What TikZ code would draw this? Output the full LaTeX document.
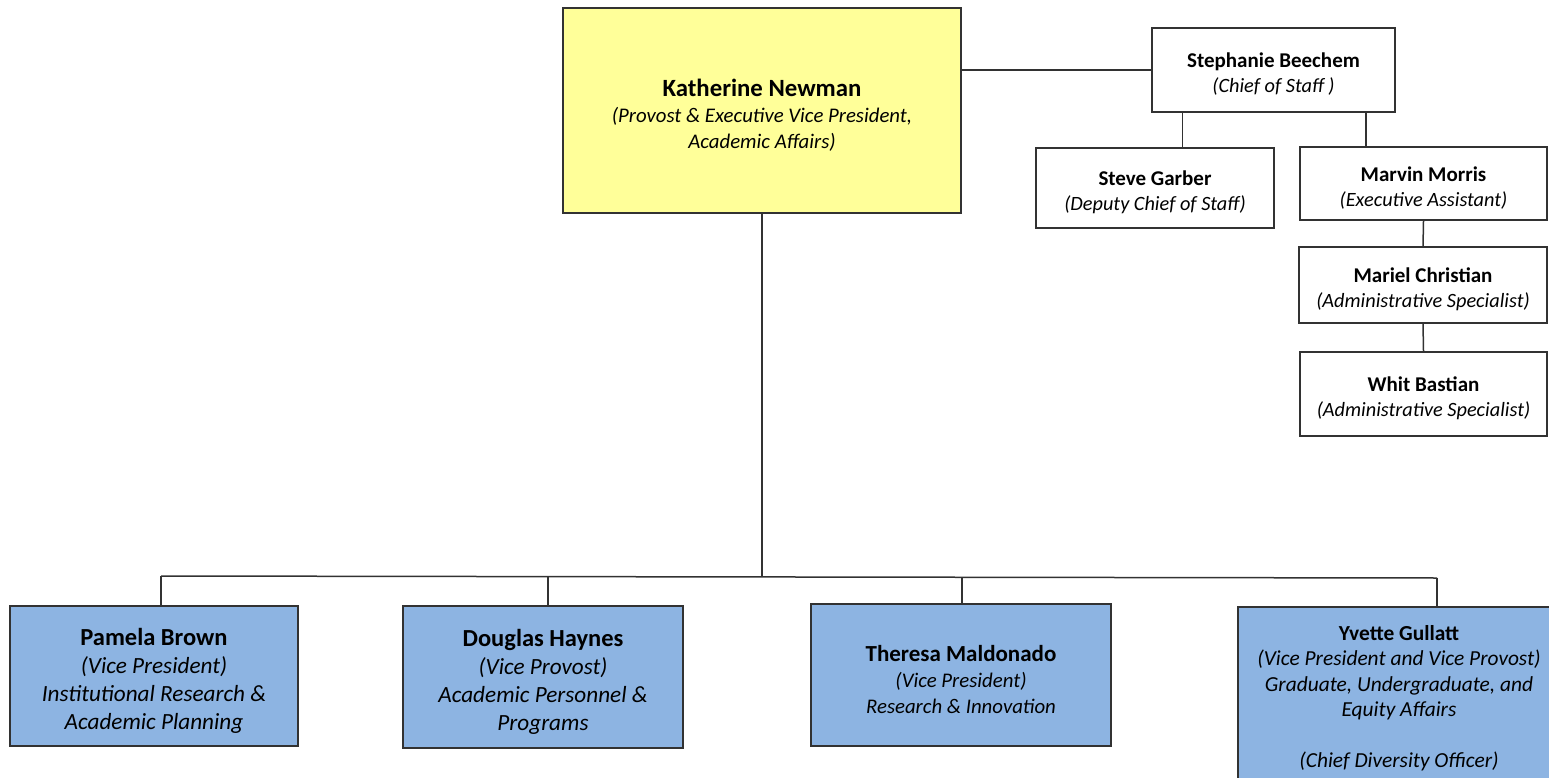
\documentclass[tikz,border=0pt]{standalone}
\usepackage{fontspec}
\setmainfont{Carlito}
\definecolor{provostyellow}{RGB}{255,255,153}
\definecolor{vpblue}{RGB}{141,180,226}
\definecolor{edgegray}{RGB}{50,50,50}
\newcommand{\headstrut}{\rule{0pt}{1.1em}}
\begin{document}
\begin{tikzpicture}[x=1pt, y=-1pt,
    orgbox/.style={draw=edgegray, line width=1.5pt, align=center, inner sep=2pt},
    provost/.style={orgbox, fill=provostyellow, font=\fontsize{20.8}{26}\selectfont},
    staffbox/.style={orgbox, fill=white, font=\fontsize{20.3}{25}\selectfont},
    vpbox/.style={orgbox, fill=vpblue, font=\fontsize{23.2}{27.7}\selectfont},
    link/.style={draw=edgegray, line width=1.5pt}]
    \clip (0,0) rectangle (1549,778);
    \useasboundingbox (0,0) rectangle (1549,778);

    % top of the chart
    \node[provost, minimum width=398, minimum height=205] (newman) at (762,110.5)
        {{\fontsize{24.8}{26}\selectfont\bfseries\headstrut Katherine Newman}\\
         \itshape (Provost \& Executive Vice President,\\
         \itshape Academic Affairs)};

    \node[staffbox, minimum width=243, minimum height=84] (beechem) at (1273.5,70)
        {\fontsize{21}{25}\selectfont\bfseries\headstrut Stephanie Beechem\\ \itshape (Chief of Staff )};
    \node[staffbox, minimum width=238, minimum height=80] (garber) at (1155,188)
        {\fontsize{21}{25}\selectfont\bfseries\headstrut Steve Garber\\ \itshape (Deputy Chief of Staff)};
    \node[staffbox, minimum width=247, minimum height=73] (morris) at (1423.5,183.5)
        {\fontsize{21}{25}\selectfont\bfseries\headstrut Marvin Morris\\ \itshape (Executive Assistant)};
    \node[staffbox, minimum width=248, minimum height=76] (christian) at (1423,285)
        {\fontsize{21}{25}\selectfont\bfseries\headstrut Mariel Christian\\ \itshape (Administrative Specialist)};
    \node[staffbox, minimum width=247, minimum height=84] (bastian) at (1423.5,394)
        {\fontsize{21}{25}\selectfont\bfseries\headstrut Whit Bastian\\ \itshape (Administrative Specialist)};

    \draw[link] (beechem.west) -- (beechem.west -| newman.east);
    \coordinate (stubG) at ([xshift=31]beechem.south west);
    \coordinate (stubM) at ([xshift=-30]beechem.south east);
    \draw[link] (stubG) -- (stubG |- garber.north);
    \draw[link] (stubM) -- (stubM |- morris.north);
    \draw[link] (morris.south) -- (christian.north);
    \draw[link] (christian.south) -- (bastian.north);

    % vice presidents
    \node[vpbox, minimum width=288, minimum height=140] (brown) at (154,676)
        {{\fontsize{24.5}{27.7}\selectfont\bfseries\headstrut Pamela Brown}\\ \itshape (Vice President)\\
         \itshape Institutional Research \&\\ \itshape Academic Planning};
    \node[vpbox, minimum width=280, minimum height=142] (haynes) at (543,677)
        {{\fontsize{24.5}{27.7}\selectfont\bfseries\headstrut Douglas Haynes}\\ \itshape (Vice Provost)\\
         \itshape Academic Personnel \&\\ \itshape Programs};
    \node[vpbox, minimum width=300, minimum height=142,
          font=\fontsize{20.8}{26}\selectfont] (maldonado) at (961,675)
        {{\fontsize{23}{26}\selectfont\bfseries\headstrut Theresa Maldonado}\\ \itshape (Vice President)\\
         \itshape Research \& Innovation};
    \node[vpbox, minimum width=322, minimum height=193,
          font=\fontsize{21.4}{25.5}\selectfont] (gullatt) at (1399,703.5)
        {\bfseries Yvette Gullatt\\ \itshape (Vice President and Vice Provost)\\
         \itshape Graduate, Undergraduate, and\\ \itshape Equity Affairs\\[25.5pt]
         \itshape (Chief Diversity Officer)\\[-11pt]\mbox{}};

    \coordinate (busL) at (161,576);
    \coordinate (busR) at (1437,578);
    \draw[link] (newman.south) -- (newman.south |- busL);
    \draw[link] (busL) -- (busR);
    \coordinate (dropB) at (161,576);
    \coordinate (dropH) at (548,577);
    \coordinate (dropM) at (962,577);
    \coordinate (dropG) at (1437,578);
    \draw[link] (dropB) -- (dropB |- brown.north);
    \draw[link] (dropH) -- (dropH |- haynes.north);
    \draw[link] (dropM) -- (dropM |- maldonado.north);
    \draw[link] (dropG) -- (dropG |- gullatt.north);
\end{tikzpicture}
\end{document}
